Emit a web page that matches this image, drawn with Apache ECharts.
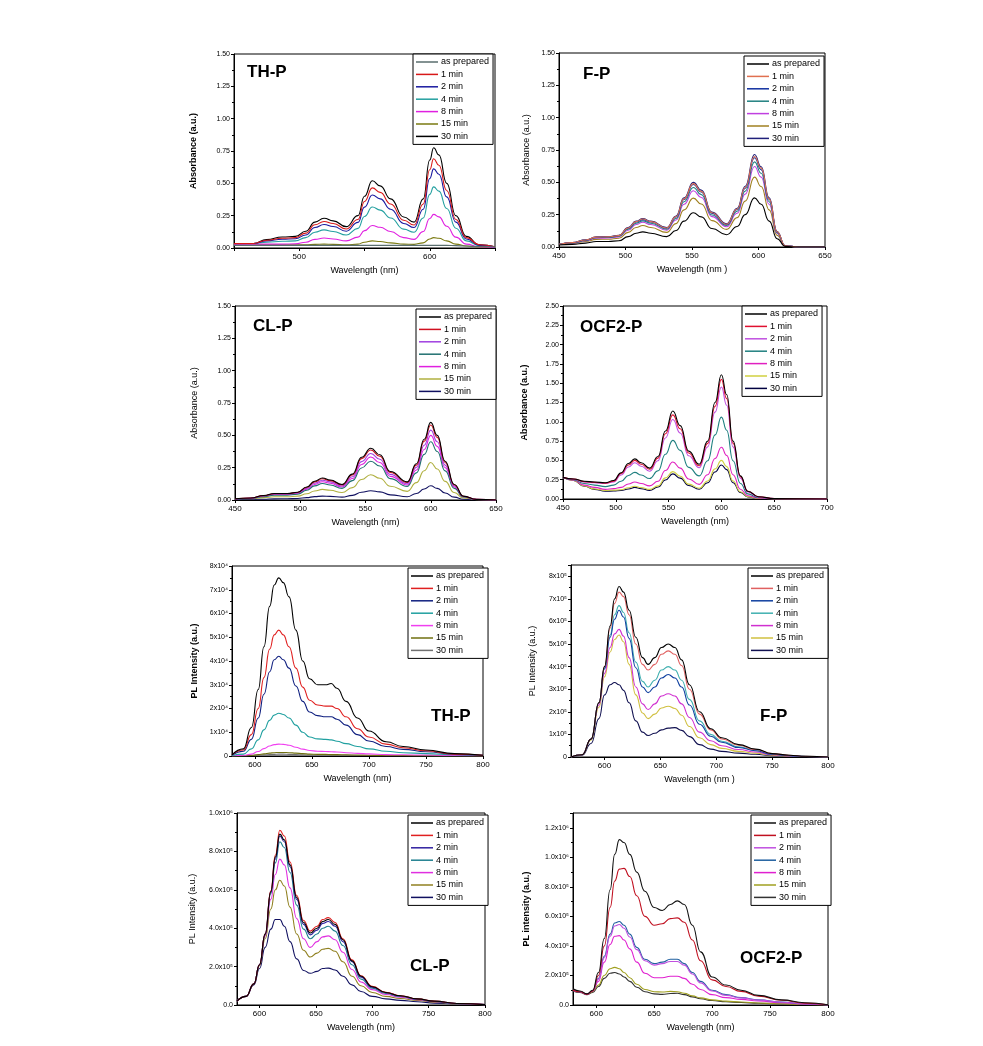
<!DOCTYPE html>
<html><head><meta charset="utf-8">
<script src="https://cdn.jsdelivr.net/npm/echarts@6/dist/echarts.min.js"></script>
<style>html,body{margin:0;padding:0;background:#fff}#c{width:983px;height:1046px}</style>
</head><body><div id="c"></div>
<script>
const seriesNames = ['as prepared','1 min','2 min','4 min','8 min','15 min','30 min'];

// ---------- TH-P absorbance ----------
const thpAbsX = [450,465,475,487,497,505,512,519,526,536,545,550,556,562,570,580,588,595,600,603,607,613,620,628,638,650];
const thpAbsY = [
 [0.02,0.02,0.02,0.02,0.02,0.02,0.02,0.02,0.02,0.02,0.02,0.02,0.02,0.02,0.02,0.02,0.02,0.02,0.02,0.02,0.02,0.02,0.018,0.015,0.012,0.01],
 [0.035,0.035,0.06,0.075,0.08,0.115,0.18,0.205,0.19,0.147,0.22,0.36,0.465,0.43,0.34,0.215,0.178,0.34,0.605,0.69,0.64,0.445,0.22,0.08,0.025,0.01],
 [0.035,0.035,0.055,0.068,0.072,0.10,0.158,0.182,0.166,0.13,0.198,0.316,0.41,0.38,0.30,0.19,0.158,0.30,0.537,0.612,0.57,0.395,0.2,0.07,0.02,0.01],
 [0.035,0.035,0.045,0.052,0.055,0.08,0.122,0.14,0.128,0.10,0.152,0.244,0.317,0.293,0.232,0.146,0.122,0.232,0.415,0.473,0.44,0.305,0.153,0.055,0.018,0.008],
 [0.03,0.03,0.03,0.03,0.032,0.045,0.067,0.077,0.07,0.055,0.084,0.134,0.174,0.16,0.127,0.08,0.067,0.127,0.228,0.26,0.241,0.168,0.084,0.03,0.01,0.005],
 [0.025,0.025,0.025,0.025,0.025,0.025,0.028,0.03,0.028,0.025,0.03,0.045,0.055,0.05,0.04,0.03,0.028,0.04,0.07,0.08,0.075,0.055,0.03,0.015,0.008,0.005],
 [0.03,0.035,0.065,0.085,0.09,0.13,0.20,0.23,0.21,0.165,0.25,0.40,0.52,0.48,0.38,0.24,0.20,0.38,0.68,0.775,0.72,0.50,0.25,0.09,0.025,0.01]
];
const thpAbsColors = ['#5a6e6e','#d81818','#1a1aa0','#24a0a0','#e020e0','#7a7a10','#000000'];

// ---------- F-P absorbance ----------
const fpAbsX = [450,460,470,478,487,495,502,508,513,519,531,538,544,551,557,565,576,584,590,597,602,608,614,620,630,650];
const fpAbsY = [
 [0.015,0.02,0.03,0.042,0.043,0.048,0.08,0.106,0.117,0.106,0.08,0.127,0.2,0.265,0.233,0.143,0.095,0.159,0.25,0.38,0.33,0.2,0.064,0.005,0,0],
 [0.02,0.034,0.054,0.076,0.078,0.088,0.147,0.196,0.216,0.196,0.147,0.235,0.372,0.49,0.43,0.265,0.176,0.294,0.46,0.70,0.61,0.372,0.118,0.01,0,0],
 [0.02,0.034,0.053,0.075,0.077,0.087,0.145,0.193,0.212,0.193,0.145,0.232,0.367,0.483,0.425,0.26,0.174,0.29,0.454,0.69,0.598,0.367,0.116,0.01,0,0],
 [0.02,0.032,0.05,0.072,0.074,0.083,0.138,0.184,0.202,0.184,0.138,0.22,0.35,0.46,0.405,0.248,0.166,0.276,0.432,0.658,0.57,0.35,0.11,0.01,0,0],
 [0.02,0.03,0.048,0.068,0.07,0.078,0.13,0.174,0.191,0.174,0.13,0.209,0.33,0.435,0.383,0.235,0.157,0.261,0.409,0.622,0.54,0.33,0.104,0.01,0,0],
 [0.02,0.027,0.042,0.059,0.06,0.068,0.113,0.151,0.166,0.151,0.113,0.181,0.287,0.378,0.332,0.204,0.136,0.227,0.355,0.54,0.468,0.287,0.09,0.008,0,0],
 [0.02,0.035,0.055,0.078,0.08,0.09,0.15,0.20,0.22,0.20,0.15,0.24,0.38,0.50,0.44,0.27,0.18,0.30,0.47,0.715,0.62,0.38,0.12,0.01,0,0]
];
const fpAbsColors = ['#000000','#e07050','#1030a0','#208080','#c040e0','#a08020','#20207a'];

// ---------- CL-P absorbance ----------
const clpAbsX = [450,462,472,480,490,498,505,511,517,523,532,540,547,554,561,569,582,589,595,600,605,611,618,625,635,650];
const clpAbsY = [
 [0.01,0.015,0.035,0.05,0.05,0.06,0.10,0.145,0.17,0.155,0.12,0.20,0.33,0.40,0.35,0.22,0.14,0.28,0.47,0.60,0.50,0.30,0.12,0.03,0.005,0],
 [0.01,0.015,0.034,0.048,0.048,0.058,0.097,0.14,0.164,0.15,0.116,0.193,0.32,0.387,0.338,0.213,0.135,0.27,0.455,0.58,0.484,0.29,0.116,0.029,0.005,0],
 [0.01,0.014,0.032,0.045,0.045,0.054,0.09,0.13,0.153,0.14,0.108,0.18,0.297,0.36,0.315,0.198,0.126,0.252,0.423,0.54,0.45,0.27,0.108,0.027,0.005,0],
 [0.01,0.012,0.026,0.038,0.038,0.045,0.075,0.109,0.128,0.116,0.09,0.15,0.248,0.30,0.263,0.165,0.105,0.21,0.353,0.45,0.375,0.225,0.09,0.023,0.004,0],
 [0.01,0.013,0.029,0.042,0.042,0.05,0.083,0.12,0.141,0.129,0.1,0.166,0.274,0.332,0.29,0.183,0.116,0.232,0.39,0.50,0.415,0.25,0.1,0.025,0.004,0],
 [0.01,0.01,0.018,0.025,0.025,0.03,0.048,0.07,0.082,0.075,0.058,0.096,0.158,0.195,0.168,0.106,0.067,0.134,0.226,0.29,0.24,0.144,0.058,0.015,0.003,0],
 [0.005,0.005,0.006,0.009,0.01,0.012,0.018,0.026,0.03,0.028,0.022,0.036,0.06,0.072,0.063,0.04,0.025,0.05,0.085,0.11,0.09,0.054,0.022,0.006,0.002,0]
];
const clpAbsColors = ['#000000','#d01020','#a040e0','#207070','#e020e0','#b0b040','#101060'];

// ---------- OCF2-P absorbance ----------
const ocfAbsX = [450,460,470,480,490,498,505,512,518,524,532,540,547,554,561,569,579,587,594,600,605,611,618,625,635,650,700];
const ocfAbsY = [
 [0.28,0.26,0.23,0.22,0.21,0.24,0.34,0.46,0.52,0.47,0.40,0.55,0.88,1.14,0.95,0.62,0.45,0.75,1.25,1.61,1.35,0.75,0.30,0.10,0.03,0.005,0],
 [0.28,0.26,0.225,0.215,0.205,0.23,0.33,0.44,0.50,0.45,0.385,0.53,0.845,1.09,0.91,0.595,0.43,0.72,1.20,1.55,1.30,0.72,0.29,0.10,0.03,0.005,0],
 [0.28,0.255,0.22,0.21,0.20,0.22,0.31,0.415,0.47,0.425,0.36,0.495,0.79,1.03,0.855,0.56,0.405,0.675,1.125,1.45,1.215,0.675,0.27,0.09,0.025,0.005,0],
 [0.28,0.25,0.20,0.18,0.16,0.18,0.23,0.305,0.345,0.31,0.265,0.365,0.58,0.76,0.63,0.41,0.30,0.495,0.83,1.06,0.89,0.495,0.2,0.066,0.02,0.004,0],
 [0.28,0.245,0.18,0.15,0.125,0.135,0.15,0.195,0.22,0.20,0.17,0.23,0.37,0.48,0.40,0.26,0.19,0.315,0.525,0.67,0.565,0.315,0.126,0.042,0.013,0.003,0],
 [0.28,0.24,0.17,0.13,0.11,0.115,0.12,0.145,0.165,0.148,0.125,0.17,0.273,0.355,0.295,0.193,0.14,0.233,0.39,0.50,0.42,0.233,0.093,0.031,0.01,0.002,0],
 [0.28,0.24,0.165,0.125,0.10,0.105,0.11,0.13,0.15,0.133,0.112,0.155,0.247,0.325,0.27,0.175,0.127,0.21,0.35,0.44,0.38,0.21,0.084,0.028,0.008,0.002,0]
];
const ocfAbsColors = ['#000000','#e01030','#c050e0','#208080','#e020c0','#d0d040','#000040'];

// ---------- TH-P PL (x10^4) ----------
const thpPlX = [580,590,597,603,608,613,617,621,625,630,636,642,648,655,662,667,672,680,690,700,715,730,750,775,800];
const thpPlY = [
 [0.05,0.3,1.2,2.8,4.6,6.3,7.2,7.5,7.3,6.7,5.3,4.0,3.25,3.0,3.0,3.05,2.85,2.3,1.6,1.05,0.6,0.4,0.25,0.1,0.03],
 [0.05,0.25,0.9,2.0,3.3,4.5,5.1,5.3,5.1,4.6,3.7,2.9,2.35,2.15,2.1,2.1,2.0,1.65,1.15,0.8,0.5,0.35,0.22,0.08,0.03],
 [0.04,0.2,0.7,1.6,2.6,3.55,4.05,4.2,4.05,3.7,2.95,2.3,1.85,1.7,1.65,1.65,1.55,1.3,0.9,0.63,0.4,0.28,0.18,0.07,0.03],
 [0.02,0.08,0.3,0.68,1.1,1.5,1.72,1.8,1.75,1.6,1.3,1.0,0.8,0.72,0.7,0.68,0.62,0.52,0.4,0.3,0.2,0.14,0.1,0.05,0.02],
 [0.01,0.03,0.08,0.19,0.31,0.42,0.48,0.5,0.49,0.45,0.37,0.29,0.23,0.2,0.19,0.18,0.17,0.14,0.11,0.09,0.06,0.05,0.04,0.02,0.01],
 [0,0.01,0.03,0.06,0.09,0.12,0.14,0.15,0.15,0.14,0.12,0.1,0.08,0.07,0.07,0.06,0.06,0.05,0.04,0.03,0.02,0.02,0.01,0.01,0],
 [0,0.01,0.02,0.03,0.05,0.06,0.07,0.08,0.08,0.07,0.06,0.05,0.04,0.04,0.04,0.03,0.03,0.03,0.02,0.02,0.01,0.01,0.01,0,0]
];
const thpPlColors = ['#000000','#e02020','#102080','#20a0a0','#f040f0','#707010','#707070'];

// ---------- F-P PL (x10^5) ----------
const fpPlX = [570,580,588,595,600,605,609,613,617,622,628,634,639,645,651,657,663,669,676,685,695,705,720,735,750,765,780,800];
const fpPlY = [
 [0,0.1,0.8,2.4,4.0,5.8,7.0,7.55,7.3,6.5,5.3,4.4,4.1,4.4,4.85,5.0,4.85,4.3,3.2,2.0,1.25,0.85,0.55,0.35,0.15,0.08,0.03,0],
 [0,0.1,0.8,2.4,4.0,5.7,6.8,7.3,7.1,6.3,5.0,4.1,3.85,4.1,4.55,4.7,4.55,4.05,3.0,1.9,1.2,0.8,0.52,0.33,0.15,0.08,0.03,0],
 [0,0.1,0.8,2.4,3.9,5.3,6.1,6.5,6.2,5.25,3.95,3.1,2.85,3.1,3.5,3.65,3.5,3.1,2.3,1.45,0.92,0.65,0.42,0.28,0.12,0.06,0.02,0],
 [0,0.1,0.8,2.4,3.95,5.4,6.3,6.7,6.4,5.5,4.2,3.35,3.1,3.4,3.85,4.0,3.85,3.4,2.55,1.6,1.0,0.7,0.45,0.3,0.13,0.07,0.03,0],
 [0,0.1,0.8,2.3,3.7,4.85,5.45,5.65,5.35,4.4,3.1,2.35,2.1,2.35,2.7,2.8,2.7,2.35,1.75,1.1,0.72,0.5,0.33,0.22,0.1,0.05,0.02,0],
 [0,0.1,0.75,2.2,3.55,4.65,5.2,5.4,5.1,4.1,2.75,1.95,1.7,1.9,2.17,2.25,2.15,1.85,1.35,0.85,0.55,0.38,0.25,0.17,0.08,0.04,0.02,0],
 [0,0.08,0.6,1.7,2.75,3.2,3.3,3.2,2.95,2.4,1.6,1.1,0.95,1.05,1.2,1.28,1.3,1.18,0.9,0.55,0.35,0.25,0.17,0.12,0.06,0.03,0.01,0]
];
const fpPlColors = ['#000000','#e06060','#1040a0','#40b0b0','#d030d0','#d0c040','#101050'];

// ---------- CL-P PL (x10^5) ----------
const clpPlX = [580,588,595,600,605,610,614,618,622,627,633,639,645,651,656,661,667,674,682,690,700,712,725,740,755,775,800];
const clpPlY = [
 [0.2,0.45,1.1,2.1,3.7,5.9,7.7,8.9,8.6,7.3,5.6,4.3,3.75,4.0,4.35,4.45,4.2,3.4,2.3,1.5,0.95,0.65,0.48,0.32,0.2,0.08,0.02],
 [0.2,0.45,1.1,2.1,3.7,5.95,7.8,9.1,8.8,7.45,5.7,4.4,3.85,4.1,4.45,4.55,4.3,3.45,2.35,1.52,0.97,0.66,0.48,0.32,0.2,0.08,0.02],
 [0.2,0.45,1.1,2.1,3.7,5.9,7.6,8.8,8.5,7.2,5.5,4.2,3.65,3.9,4.25,4.35,4.1,3.3,2.25,1.45,0.93,0.64,0.47,0.31,0.19,0.08,0.02],
 [0.2,0.45,1.1,2.1,3.65,5.8,7.4,8.5,8.2,6.9,5.2,3.95,3.45,3.7,4.0,4.1,3.85,3.1,2.1,1.35,0.88,0.6,0.44,0.3,0.18,0.07,0.02],
 [0.2,0.45,1.1,2.1,3.6,5.5,6.8,7.6,7.3,6.1,4.5,3.45,3.0,3.3,3.55,3.6,3.4,2.75,1.85,1.2,0.8,0.55,0.4,0.28,0.17,0.07,0.02],
 [0.2,0.45,1.1,2.05,3.45,5.0,6.0,6.5,6.2,5.1,3.7,2.85,2.5,2.7,2.9,2.95,2.8,2.25,1.5,1.0,0.65,0.45,0.34,0.24,0.15,0.06,0.02],
 [0.2,0.45,1.05,1.9,3.0,3.95,4.45,4.45,4.1,3.3,2.4,1.8,1.65,1.75,1.9,1.92,1.82,1.5,1.05,0.7,0.45,0.32,0.24,0.17,0.1,0.05,0.01]
];
const clpPlColors = ['#000000','#e02020','#3020a0','#208090','#e030e0','#908020','#101060'];

// ---------- OCF2-P PL (x10^5) ----------
const ocfPlX = [580,586,592,597,602,607,612,616,620,624,629,635,642,650,657,664,670,676,683,690,700,712,725,740,760,780,800];
const ocfPlY = [
 [1.1,0.95,0.75,1.0,2.2,4.5,7.8,10.2,11.2,11.0,10.2,9.0,7.7,6.6,6.4,6.8,7.05,6.8,5.4,3.6,1.9,1.35,1.0,0.65,0.35,0.15,0.02],
 [1.0,0.9,0.72,0.95,2.0,4.0,6.6,8.4,9.2,9.25,8.7,7.4,6.0,5.4,5.5,5.85,5.9,5.6,4.4,3.0,1.7,1.25,0.92,0.6,0.32,0.13,0.02],
 [1.0,0.9,0.72,0.95,1.75,3.2,4.65,5.35,5.45,5.2,4.6,3.75,3.0,2.7,2.8,2.95,2.95,2.7,2.1,1.5,0.95,0.65,0.48,0.33,0.19,0.08,0.01],
 [1.0,0.9,0.72,0.95,1.8,3.3,4.8,5.55,5.65,5.4,4.8,3.9,3.1,2.8,2.9,3.1,3.1,2.8,2.2,1.6,1.0,0.7,0.5,0.35,0.2,0.08,0.01],
 [1.0,0.9,0.72,0.95,1.6,2.9,4.1,4.65,4.7,4.4,3.8,2.9,2.15,1.85,1.85,1.95,1.95,1.8,1.4,1.05,0.7,0.5,0.38,0.27,0.15,0.06,0.01],
 [1.0,0.9,0.72,0.9,1.35,2.0,2.45,2.55,2.45,2.2,1.85,1.4,1.05,0.9,0.88,0.92,0.9,0.8,0.62,0.48,0.35,0.26,0.2,0.14,0.08,0.04,0.01],
 [0.95,0.85,0.7,0.85,1.25,1.8,2.15,2.2,2.1,1.9,1.6,1.2,0.9,0.75,0.72,0.78,0.8,0.7,0.55,0.42,0.3,0.22,0.17,0.12,0.07,0.03,0.01]
];
const ocfPlColors = ['#111111','#c01020','#c050e0','#2060a0','#e020d0','#a0a020','#333333'];

const absXLabels = [450,500,550,600,650];
const thpAbsXLabels = [500,600];
const ocfAbsXLabels = [450,500,550,600,650,700];
const plXLabels = [600,650,700,750,800];

// ---------- layout ----------
const FONT = '"Liberation Sans", Arial, sans-serif';
const fmtAbs = v => v.toFixed(2);
const fmt4 = v => v === 0 ? '0' : (Number.isInteger(v) ? v + 'x10\u2074' : '');
const fmt5 = v => v === 0 ? '0' : (Number.isInteger(v) ? v + 'x10\u2075' : '');
const fmtE = v => v === 0 ? '0.0' : (v > 12.5 ? '' : (v >= 10 ? (v / 10).toFixed(1) + 'x10\u2076' : v.toFixed(1) + 'x10\u2075'));

const panels = [
 {label:'TH-P', x:thpAbsX, ys:thpAbsY, colors:thpAbsColors, grid:{left:234,top:54,width:261,height:194},
  xMin:450, xMax:650, xTicks:absXLabels, xLabels:thpAbsXLabels, yMax:1.5, yStep:0.25, yFmt:fmtAbs,
  yName:'Absorbance (a.u.)', bold:true, yGap:36, xName:'Wavelength (nm)', lab:[247,64], leg:[413,54]},
 {label:'F-P', x:fpAbsX, ys:fpAbsY, colors:fpAbsColors, grid:{left:559,top:53,width:266,height:194},
  xMin:450, xMax:650, xTicks:absXLabels, xLabels:absXLabels, yMax:1.5, yStep:0.25, yFmt:fmtAbs,
  yName:'Absorbance (a.u.)', bold:false, yGap:28, xName:'Wavelength (nm )', lab:[583,66], leg:[744,56]},
 {label:'CL-P', x:clpAbsX, ys:clpAbsY, colors:clpAbsColors, grid:{left:235,top:306,width:261,height:194},
  xMin:450, xMax:650, xTicks:absXLabels, xLabels:absXLabels, yMax:1.5, yStep:0.25, yFmt:fmtAbs,
  yName:'Absorbance (a.u.)', bold:false, yGap:36, xName:'Wavelength (nm)', lab:[253,318], leg:[416,309]},
 {label:'OCF2-P', x:ocfAbsX, ys:ocfAbsY, colors:ocfAbsColors, grid:{left:563,top:306,width:264,height:193},
  xMin:450, xMax:700, xTicks:ocfAbsXLabels, xLabels:ocfAbsXLabels, yMax:2.5, yStep:0.25, yFmt:fmtAbs,
  yName:'Absorbance (a.u.)', bold:true, yGap:34, xName:'Wavelength (nm)', lab:[580,319], leg:[742,306]},
 {label:'TH-P', x:thpPlX, ys:thpPlY, colors:thpPlColors, grid:{left:232,top:566,width:251,height:190},
  xMin:580, xMax:800, xTicks:plXLabels, xLabels:plXLabels, yMax:8, yStep:1, yFmt:fmt4,
  yName:'PL Intensity (a.u.)', bold:true, yGap:33, xName:'Wavelength (nm)', lab:[431,708], leg:[408,568]},
 {label:'F-P', x:fpPlX, ys:fpPlY, colors:fpPlColors, grid:{left:571,top:565,width:257,height:192},
  xMin:570, xMax:800, xTicks:plXLabels, xLabels:plXLabels, yMax:8.5, yStep:1, yFmt:fmt5,
  yName:'PL Intensity (a.u.)', bold:false, yGap:34, xName:'Wavelength (nm )', lab:[760,708], leg:[748,568]},
 {label:'CL-P', x:clpPlX, ys:clpPlY, colors:clpPlColors, grid:{left:237,top:813,width:248,height:192},
  xMin:580, xMax:800, xTicks:plXLabels, xLabels:plXLabels, yMax:10, yStep:2, yFmt:fmtE,
  yName:'PL Intensity (a.u.)', bold:false, yGap:40, xName:'Wavelength (nm)', lab:[410,958], leg:[408,815]},
 {label:'OCF2-P', x:ocfPlX, ys:ocfPlY, colors:ocfPlColors, grid:{left:573,top:813,width:255,height:192},
  xMin:580, xMax:800, xTicks:plXLabels, xLabels:plXLabels, yMax:13, yStep:2, yFmt:fmtE,
  yName:'PL intensity (a.u.)', bold:true, yGap:42, xName:'Wavelength (nm)', lab:[740,950], leg:[751,815]}
];

const grids = [], xAxes = [], yAxes = [], series = [], legends = [], titles = [];
const ZW = '\u200b';
panels.forEach((p, i) => {
  grids.push(Object.assign({show:true, borderColor:'#000', borderWidth:1, containLabel:false}, p.grid));
  xAxes.push({
    type:'value', gridIndex:i, min:p.xMin, max:p.xMax,
    name:p.xName, nameLocation:'middle', nameGap:18,
    nameTextStyle:{fontFamily:FONT, fontSize:9, color:'#000'},
    axisLine:{show:true, lineStyle:{color:'#000', width:1}},
    axisTick:{show:true, length:3, lineStyle:{color:'#000'}, customValues:p.xTicks},
    axisLabel:{fontFamily:FONT, fontSize:8, color:'#000', margin:5, customValues:p.xLabels},
    splitLine:{show:false}
  });
  yAxes.push({
    type:'value', gridIndex:i, min:0, max:p.yMax, interval:p.yStep,
    name:p.yName, nameLocation:'middle', nameGap:p.yGap,
    nameTextStyle:{fontFamily:FONT, fontSize:9, color:'#000', fontWeight:p.bold ? 'bold' : 'normal'},
    axisLine:{show:true, lineStyle:{color:'#000', width:1}},
    axisTick:{show:true, length:3, lineStyle:{color:'#000'}},
    minorTick:{show:true, splitNumber:2, length:2, lineStyle:{color:'#000'}},
    axisLabel:{fontFamily:FONT, fontSize:7, color:'#000', margin:4, formatter:p.yFmt, showMaxLabel:true},
    splitLine:{show:false}
  });
  const names = [];
  seriesNames.forEach((nm, k) => {
    const sname = nm + ZW.repeat(i + 1);
    names.push(sname);
    series.push({
      type:'line', name:sname, xAxisIndex:i, yAxisIndex:i,
      data:p.x.map((xv, j) => [xv, p.ys[k][j]]),
      showSymbol:false, symbol:'none', smooth:0.5, smoothMonotone:'x',
      lineStyle:{width:1.1, color:p.colors[k]}, itemStyle:{color:p.colors[k]},
      silent:true, z:10 - k
    });
  });
  legends.push({
    data:names, orient:'vertical', left:p.leg[0], top:p.leg[1],
    backgroundColor:'#fff', borderColor:'#000', borderWidth:1,
    padding:[3,4,3,3], itemGap:2.4, itemWidth:22, itemHeight:1.5, icon:'rect',
    textStyle:{fontFamily:FONT, fontSize:9, color:'#000', lineHeight:10, padding:[0,0,0,-2]},
    formatter: n => n.replace(/\u200b/g, ''),
    selectedMode:false, z:20
  });
  titles.push({
    text:p.label, left:p.lab[0], top:p.lab[1], padding:0,
    textStyle:{fontFamily:FONT, fontSize:17, fontWeight:'bold', color:'#000'}
  });
});

const chart = echarts.init(document.getElementById('c'), null, {renderer:'canvas'});
chart.setOption({
  animation:false, backgroundColor:'#fff',
  title:titles, grid:grids, xAxis:xAxes, yAxis:yAxes, legend:legends, series:series
});
</script>
</body></html>
